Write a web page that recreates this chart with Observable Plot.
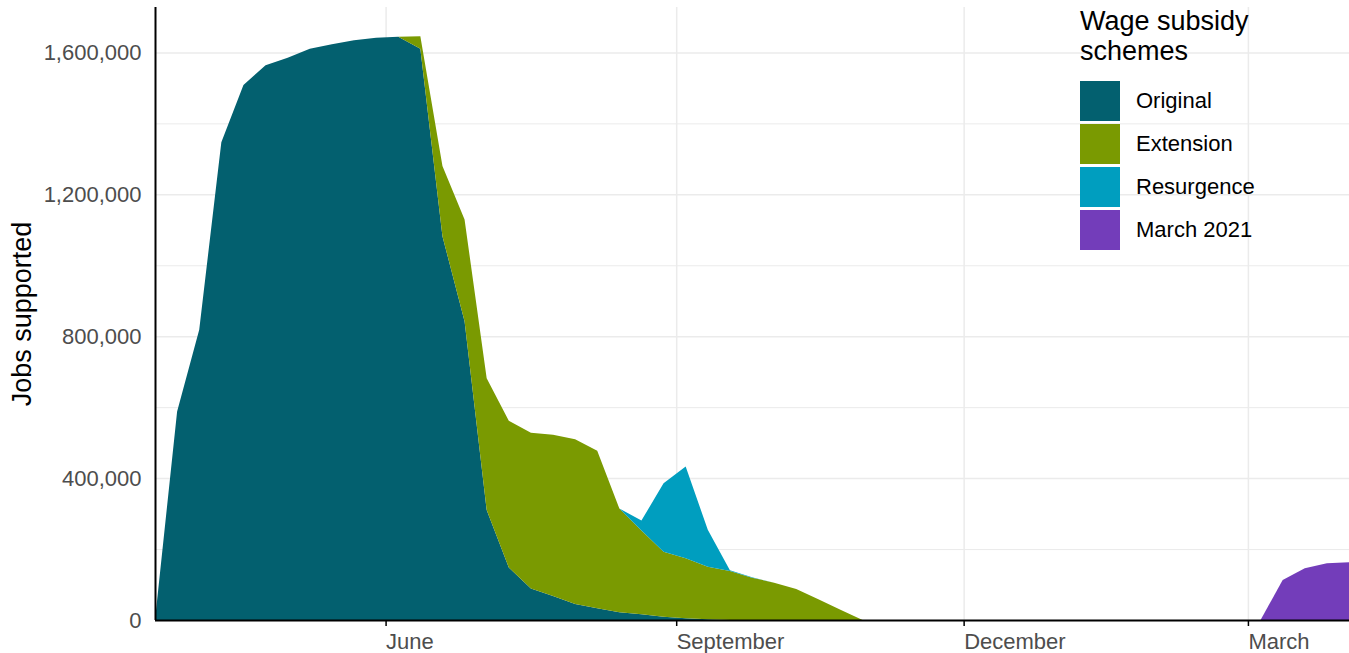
<!DOCTYPE html>
<html>
<head>
<meta charset="utf-8">
<script src="https://cdn.jsdelivr.net/npm/d3@7"></script>
<script src="https://cdn.jsdelivr.net/npm/@observablehq/plot@0.6"></script>
<style>
  html, body { margin: 0; padding: 0; background: #fff; }
  #wrap { position: relative; width: 1349px; height: 653px; font-family: "Liberation Sans", Arial, sans-serif; }
  #legend { position: absolute; left: 1080px; top: 7px; color: #000; }
  #legend .title { font-size: 27px; line-height: 29.5px; }
  #legend .items { margin-top: 15px; }
  #legend .item { display: flex; align-items: center; height: 40px; margin-bottom: 3px; }
  #legend .sw { width: 40px; height: 40px; margin-right: 16px; }
  #legend .lab { font-size: 22px; }
</style>
</head>
<body>
<div id="wrap"><div id="legend"></div></div>
<script>
// Weekly observation dates
const weeks = [
  "2020-03-20","2020-03-27","2020-04-03","2020-04-10","2020-04-17","2020-04-24","2020-05-01","2020-05-08",
  "2020-05-15","2020-05-22","2020-05-29","2020-06-05","2020-06-12","2020-06-19","2020-06-26","2020-07-03",
  "2020-07-10","2020-07-17","2020-07-24","2020-07-31","2020-08-07","2020-08-14","2020-08-21","2020-08-28",
  "2020-09-04","2020-09-11","2020-09-18","2020-09-25","2020-10-02","2020-10-09","2020-10-16","2020-10-23",
  "2020-10-30","2020-11-06","2020-11-13","2020-11-20","2020-11-27","2020-12-04","2020-12-11","2020-12-18",
  "2020-12-25","2021-01-01","2021-01-08","2021-01-15","2021-01-22","2021-01-29","2021-02-05","2021-02-12",
  "2021-02-19","2021-02-26","2021-03-05","2021-03-12","2021-03-19","2021-03-26","2021-04-02"
];

const schemes = ["Original", "Extension", "Resurgence", "March 2021"];
const schemeColors = ["#03606F", "#7A9A01", "#009EBF", "#733DBA"];

// Jobs supported per week (null = scheme not running)
const original = [
  0, 588000, 818000, 1347000, 1508000, 1564000, 1585000, 1610000,
  1623000, 1634000, 1641000, 1644000, 1610000, 1082000, 842000, 310000,
  148000, 89000, 68000, 45000, 33000, 22000, 16000, 9500,
  5000, 2000, 0, null, null, null, null, null,
  null, null, null, null, null, null, null, null,
  null, null, null, null, null, null, null, null,
  null, null, null, null, null, null, null
];
const extension = [
  null, null, null, null, null, null, null, null,
  null, null, null, 0, 35500, 197600, 287000, 371700,
  414000, 439000, 454400, 464700, 443900, 292600, 236000, 183200,
  169100, 148400, 138300, 119400, 105300, 87500, 58400, 29100,
  0, null, null, null, null, null, null, null,
  null, null, null, null, null, null, null, null,
  null, null, null, null, null, null, null
];
const resurgence = [
  null, null, null, null, null, null, null, null,
  null, null, null, null, null, null, null, null,
  null, null, null, null, null, 0, 28200, 193000,
  258500, 104000, 2000, 1000, 0, null, null, null,
  null, null, null, null, null, null, null, null,
  null, null, null, null, null, null, null, null,
  null, null, null, null, null, null, null
];
const march2021 = [
  null, null, null, null, null, null, null, null,
  null, null, null, null, null, null, null, null,
  null, null, null, null, null, null, null, null,
  null, null, null, null, null, null, null, null,
  null, null, null, null, null, null, null, null,
  null, null, null, null, null, null, null, null,
  null, null, 0, 112900, 145900, 160000, 162800
];

const yTicks = [0, 400000, 800000, 1200000, 1600000];
const yMinor = [200000, 600000, 1000000, 1400000];
const xTickDates = ["2020-06-01", "2020-09-01", "2020-12-01", "2021-03-01"];
const xTickLabels = ["June", "September", "December", "March"];

const parse = d3.utcParse("%Y-%m-%d");
const seriesValues = [original, extension, resurgence, march2021];
const rows = [];
schemes.forEach((s, i) => {
  seriesValues[i].forEach((v, k) => {
    if (v != null) rows.push({date: parse(weeks[k]), jobs: v, scheme: s});
  });
});
const xTicks = xTickDates.map(parse);
const labelOf = new Map(xTicks.map((d, i) => [+d, xTickLabels[i]]));

const grid = "#EBEBEB";
const chart = Plot.plot({
  width: 1349,
  height: 653,
  marginLeft: 155,
  marginRight: 0,
  marginTop: 7,
  marginBottom: 33,
  style: {fontFamily: "'Liberation Sans', Arial, sans-serif", background: "transparent"},
  x: {type: "utc", domain: [parse(weeks[0]), parse(weeks[weeks.length - 1])]},
  y: {domain: [0, 1728000]},
  color: {domain: schemes, range: schemeColors},
  marks: [
    Plot.ruleY(yMinor, {stroke: grid, strokeWidth: 1}),
    Plot.ruleY(yTicks, {stroke: grid, strokeWidth: 1.5}),
    Plot.ruleX(xTicks, {stroke: grid, strokeWidth: 1.5}),
    Plot.areaY(rows, {x: "date", y: "jobs", fill: "scheme", order: schemes}),
    Plot.ruleY([0], {stroke: "#000", strokeWidth: 2}),
    Plot.ruleX([parse(weeks[0])], {stroke: "#000", strokeWidth: 2}),
    Plot.axisX({
      ticks: xTicks, tickFormat: (d) => labelOf.get(+d), tickSize: 6, tickPadding: 7,
      textAnchor: "start", fontSize: 22, fill: "#4D4D4D", stroke: "#000", strokeWidth: 1.5, label: null
    }),
    Plot.axisY({
      ticks: yTicks, tickFormat: d3.format(","), tickSize: 0, tickPadding: 14,
      fontSize: 22, fill: "#4D4D4D", label: null
    }),
    Plot.text(["Jobs supported"], {
      frameAnchor: "left", rotate: -90, dx: -133, fontSize: 27, fill: "#000",
      textAnchor: "middle", lineAnchor: "middle"
    })
  ]
});
document.getElementById("wrap").prepend(chart);

const legend = document.getElementById("legend");
legend.innerHTML = `<div class="title">Wage subsidy<br>schemes</div><div class="items">` +
  schemes.map((s, i) => `<div class="item"><div class="sw" style="background:${schemeColors[i]}"></div><div class="lab">${s}</div></div>`).join("") +
  `</div>`;
</script>
</body>
</html>
